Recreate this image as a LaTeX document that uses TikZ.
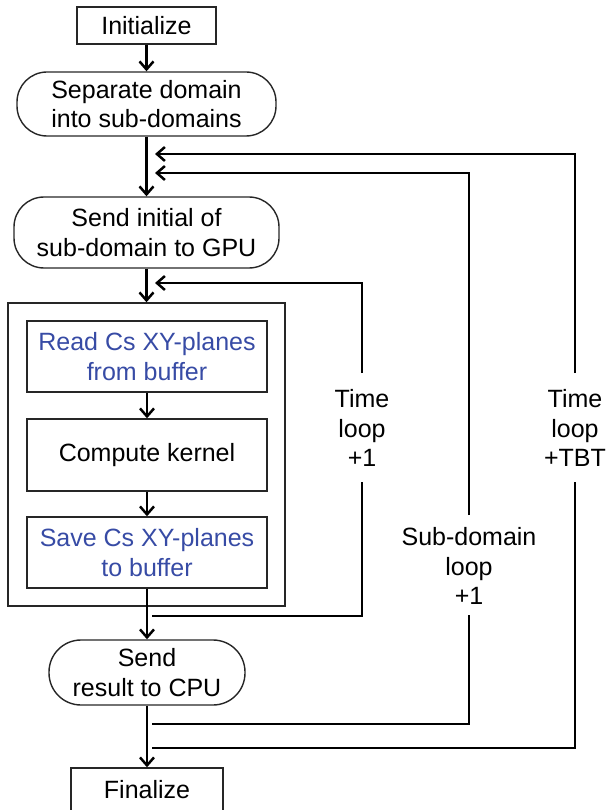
\documentclass[tikz,border=0pt]{standalone}
\usepackage{fontspec}
\setmainfont{Liberation Sans}
\usetikzlibrary{arrows.meta}
\definecolor{blueText}{RGB}{55,75,165}
\begin{document}
\begin{tikzpicture}[x=1pt,y=-1pt,
  box/.style={draw=black!85, line width=1.4pt, inner sep=0pt, align=center,
    font=\fontsize{25}{29.5}\selectfont},
  term/.style={box, rounded corners=30pt},
  conn/.style={line width=2.5pt, -{Straight Barb[length=8pt,width=14pt,line width=2.5pt]}},
  plain/.style={line width=2.5pt},
  lbl/.style={align=center, inner sep=0pt, font=\fontsize{25}{29.5}\selectfont}]
\useasboundingbox (0,0) rectangle (608,810);

\node[box, minimum width=139pt, minimum height=37pt] (init) at (146.5,25.5) {Initialize};
\node[term, minimum width=259pt, minimum height=64pt] (sep) at (146.5,104) {Separate domain\\into sub-domains};
\node[term, minimum width=265pt, minimum height=71pt] (sendi) at (146.5,232.5) {Send initial of\\sub-domain to GPU};
\node[box, minimum width=277pt, minimum height=303pt] (outer) at (146.5,454.5) {};
\node[box, text=blueText, minimum width=240pt, minimum height=71pt] (read) at (147,356.5) {Read Cs XY-planes\\from buffer};
\node[box, minimum width=240pt, minimum height=72pt] (comp) at (147,455) {Compute kernel};
\node[box, text=blueText, minimum width=240pt, minimum height=71pt] (save) at (147,552.5) {Save Cs XY-planes\\to buffer};
\node[term, rounded corners=32pt, minimum width=196pt, minimum height=65pt] (sendr) at (147,672.5) {Send\\result to CPU};
\node[box, minimum width=152pt, minimum height=44pt] (fin) at (147,790) {Finalize};

\node[lbl] (l1) at (362,428) {Time\\loop\\+1};
\node[lbl] (l2) at (469,566) {Sub-domain\\loop\\+1};
\node[lbl] (l3) at (575,428) {Time\\loop\\+TBT};

\draw[conn] (init) -- (sep);
\draw[conn] (sep) -- (sendi);
\draw[conn] (sendi.south) -- (outer.north);
\draw[conn] (read) -- (comp);
\draw[conn] (comp) -- (save);
\draw[conn] (save.south) -- (sendr.north);
\draw[conn] (sendr) -- (fin);

% time loop +1
\coordinate (a1) at (152,616);
\coordinate (b1) at (362,616);
\coordinate (l1b) at (362,482);
\coordinate (l1t) at (362,373);
\coordinate (c1) at (362,283);
\coordinate (d1) at (155,283);
\draw[plain] (a1) -- (b1) -- (l1b);
\draw[conn] (l1t) -- (c1) -- (d1);

% sub-domain loop
\coordinate (a2) at (152,724);
\coordinate (b2) at (469,724);
\coordinate (l2b) at (469,615);
\coordinate (l2t) at (469,515);
\coordinate (c2) at (469,173);
\coordinate (d2) at (155,173);
\draw[plain] (a2) -- (b2) -- (l2b);
\draw[conn] (l2t) -- (c2) -- (d2);

% time loop +TBT
\coordinate (a3) at (152,748);
\coordinate (b3) at (575,748);
\coordinate (l3b) at (575,482);
\coordinate (l3t) at (575,373);
\coordinate (c3) at (575,154);
\coordinate (d3) at (155,154);
\draw[plain] (a3) -- (b3) -- (l3b);
\draw[conn] (l3t) -- (c3) -- (d3);
\end{tikzpicture}
\end{document}
